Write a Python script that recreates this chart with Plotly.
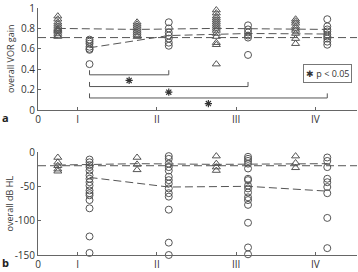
import plotly.graph_objects as go

groups = ["I", "II", "III", "IV"]
tick_labels = ["0", "I", "II", "III", "IV"]

# VOR gain (top panel): triangles and circles per group
vor_tri = [
    [0.92, 0.89, 0.86, 0.84, 0.82, 0.80, 0.79, 0.78, 0.77, 0.75, 0.73, 0.72],
    [0.86, 0.84, 0.82, 0.80, 0.78, 0.76, 0.74, 0.72],
    [0.98, 0.95, 0.92, 0.90, 0.88, 0.86, 0.84, 0.82, 0.80, 0.78, 0.75, 0.72, 0.66, 0.64, 0.45],
    [0.89, 0.87, 0.85, 0.82, 0.80, 0.78, 0.75, 0.70, 0.65],
]
vor_circ = [
    [0.69, 0.67, 0.65, 0.62, 0.60, 0.59, 0.45],
    [0.86, 0.80, 0.76, 0.73, 0.70, 0.66, 0.63],
    [0.83, 0.79, 0.76, 0.73, 0.71, 0.54],
    [0.89, 0.82, 0.79, 0.77, 0.74, 0.72, 0.70, 0.67, 0.64],
]
vor_tri_mean = [0.80, 0.79, 0.80, 0.79]
vor_circ_mean = [0.61, 0.73, 0.75, 0.745]
vor_ref = 0.71
# significance brackets: from group I circles to group k circles
sig_targets = [1, 2, 3]
sig_levels = [0.345, 0.23, 0.118]

# dB HL (bottom panel)
db_tri = [
    [-8, -15, -20, -25, -28],
    [-8, -18, -26],
    [-6, -17, -22, -27],
    [-6, -16, -23],
]
db_circ = [
    [-11, -15, -19, -22, -27, -34, -39, -44, -49, -56, -60, -63, -70, -82, -123, -147],
    [-6, -10, -17, -22, -27, -36, -41, -46, -53, -60, -65, -84, -132, -150],
    [-7, -10, -13, -17, -24, -39, -41, -49, -53, -59, -66, -70, -77, -103, -139, -149],
    [-8, -13, -22, -39, -44, -51, -60, -96, -140],
]
db_tri_mean = [-19, -17, -18, -17]
db_circ_mean = [-37, -51, -50, -57]
db_ref = -20

centers = [1, 3, 5, 7]
tri_off, circ_off = -0.5, 0.3
XR = [0, 8.05]
MK = "#555"
LN = "#555"
DASH = "8px,4px"

fig = go.Figure()

def add_panel(tri, circ, tmean, cmean, ref, xa, ya):
    for i, c in enumerate(centers):
        fig.add_trace(go.Scatter(x=[c + tri_off] * len(tri[i]), y=tri[i], mode="markers",
                                 marker=dict(symbol="triangle-up-open", size=7, color=MK, line=dict(width=1)),
                                 xaxis=xa, yaxis=ya, cliponaxis=False, showlegend=False))
        fig.add_trace(go.Scatter(x=[c + circ_off] * len(circ[i]), y=circ[i], mode="markers",
                                 marker=dict(symbol="circle-open", size=7, color=MK, line=dict(width=1)),
                                 xaxis=xa, yaxis=ya, cliponaxis=False, showlegend=False))
    fig.add_trace(go.Scatter(x=XR, y=[ref, ref], mode="lines",
                             line=dict(color=LN, width=1, dash=DASH),
                             xaxis=xa, yaxis=ya, showlegend=False))
    fig.add_trace(go.Scatter(x=[c + tri_off for c in centers] + [centers[-1] + circ_off], y=tmean + [tmean[-1]],
                             mode="lines", line=dict(color=LN, width=1, dash=DASH),
                             xaxis=xa, yaxis=ya, showlegend=False))
    fig.add_trace(go.Scatter(x=[c + circ_off for c in centers], y=cmean,
                             mode="lines", line=dict(color=LN, width=1, dash=DASH),
                             xaxis=xa, yaxis=ya, showlegend=False))

add_panel(vor_tri, vor_circ, vor_tri_mean, vor_circ_mean, vor_ref, "x", "y")
add_panel(db_tri, db_circ, db_tri_mean, db_circ_mean, db_ref, "x2", "y2")

# significance brackets
x0 = centers[0] + circ_off
for t, lev in zip(sig_targets, sig_levels):
    x1 = centers[t] + circ_off
    fig.add_trace(go.Scatter(x=[x0, x0, x1, x1], y=[lev + 0.045, lev, lev, lev + 0.045], mode="lines",
                             line=dict(color=LN, width=1), xaxis="x", yaxis="y", showlegend=False))
    fig.add_trace(go.Scatter(x=[(x0 + x1) / 2], y=[lev - 0.055], mode="markers",
                             marker=dict(symbol="asterisk-open", size=6, color="#333", line=dict(width=1.2, color="#333")),
                             xaxis="x", yaxis="y", showlegend=False))

ax_common = dict(showline=True, linecolor="#666", linewidth=1, ticks="inside", ticklen=3,
                 tickcolor="#666", showgrid=False, zeroline=False,
                 tickfont=dict(family="Open Sans, sans-serif", size=10, color="#333"))

fig.update_layout(
    width=358, height=272,
    margin=dict(l=38, r=1, t=5, b=15),
    paper_bgcolor="white", plot_bgcolor="white",
    xaxis=dict(domain=[0, 1], range=XR, anchor="y", tickvals=[0] + centers, ticktext=tick_labels, **ax_common),
    yaxis=dict(domain=[0.587, 1], range=[0, 1], anchor="x", tickvals=[0, 0.2, 0.4, 0.6, 0.8, 1],
               ticktext=["0", "0.2", "0.4", "0.6", "0.8", "1"], **ax_common),
    xaxis2=dict(domain=[0, 1], range=XR, anchor="y2", tickvals=[0] + centers, ticktext=tick_labels, **ax_common),
    yaxis2=dict(domain=[0, 0.417], range=[-150, 0], anchor="x2", tickvals=[0, -50, -100, -150],
                ticktext=["0", "-50", "-100", "-150"], **ax_common),
    font=dict(family="Open Sans, sans-serif"),
)

fig.add_annotation(text="overall VOR gain", xref="paper", yref="y", x=-0.088, y=0.5, textangle=-90,
                   showarrow=False, font=dict(size=9, color="#333"), xanchor="center", yanchor="middle")
fig.add_annotation(text="overall dB HL", xref="paper", yref="y2", x=-0.088, y=-75, textangle=-90,
                   showarrow=False, font=dict(size=9, color="#333"), xanchor="center", yanchor="middle")
fig.add_annotation(text="<b>a</b>", xref="paper", yref="paper", x=-0.103, y=0.556, showarrow=False,
                   font=dict(size=11, color="#222"), xanchor="center", yanchor="middle")
fig.add_annotation(text="<b>b</b>", xref="paper", yref="paper", x=-0.103, y=-0.03, showarrow=False,
                   font=dict(size=11, color="#222"), xanchor="center", yanchor="middle")
fig.add_annotation(text="✱ p < 0.05", xref="paper", yref="paper", x=0.906, y=0.734, showarrow=False,
                   font=dict(size=9, color="#333"), xanchor="center", yanchor="middle",
                   bordercolor="#777", borderwidth=1, borderpad=2, bgcolor="white")

fig.write_html("out.html")
